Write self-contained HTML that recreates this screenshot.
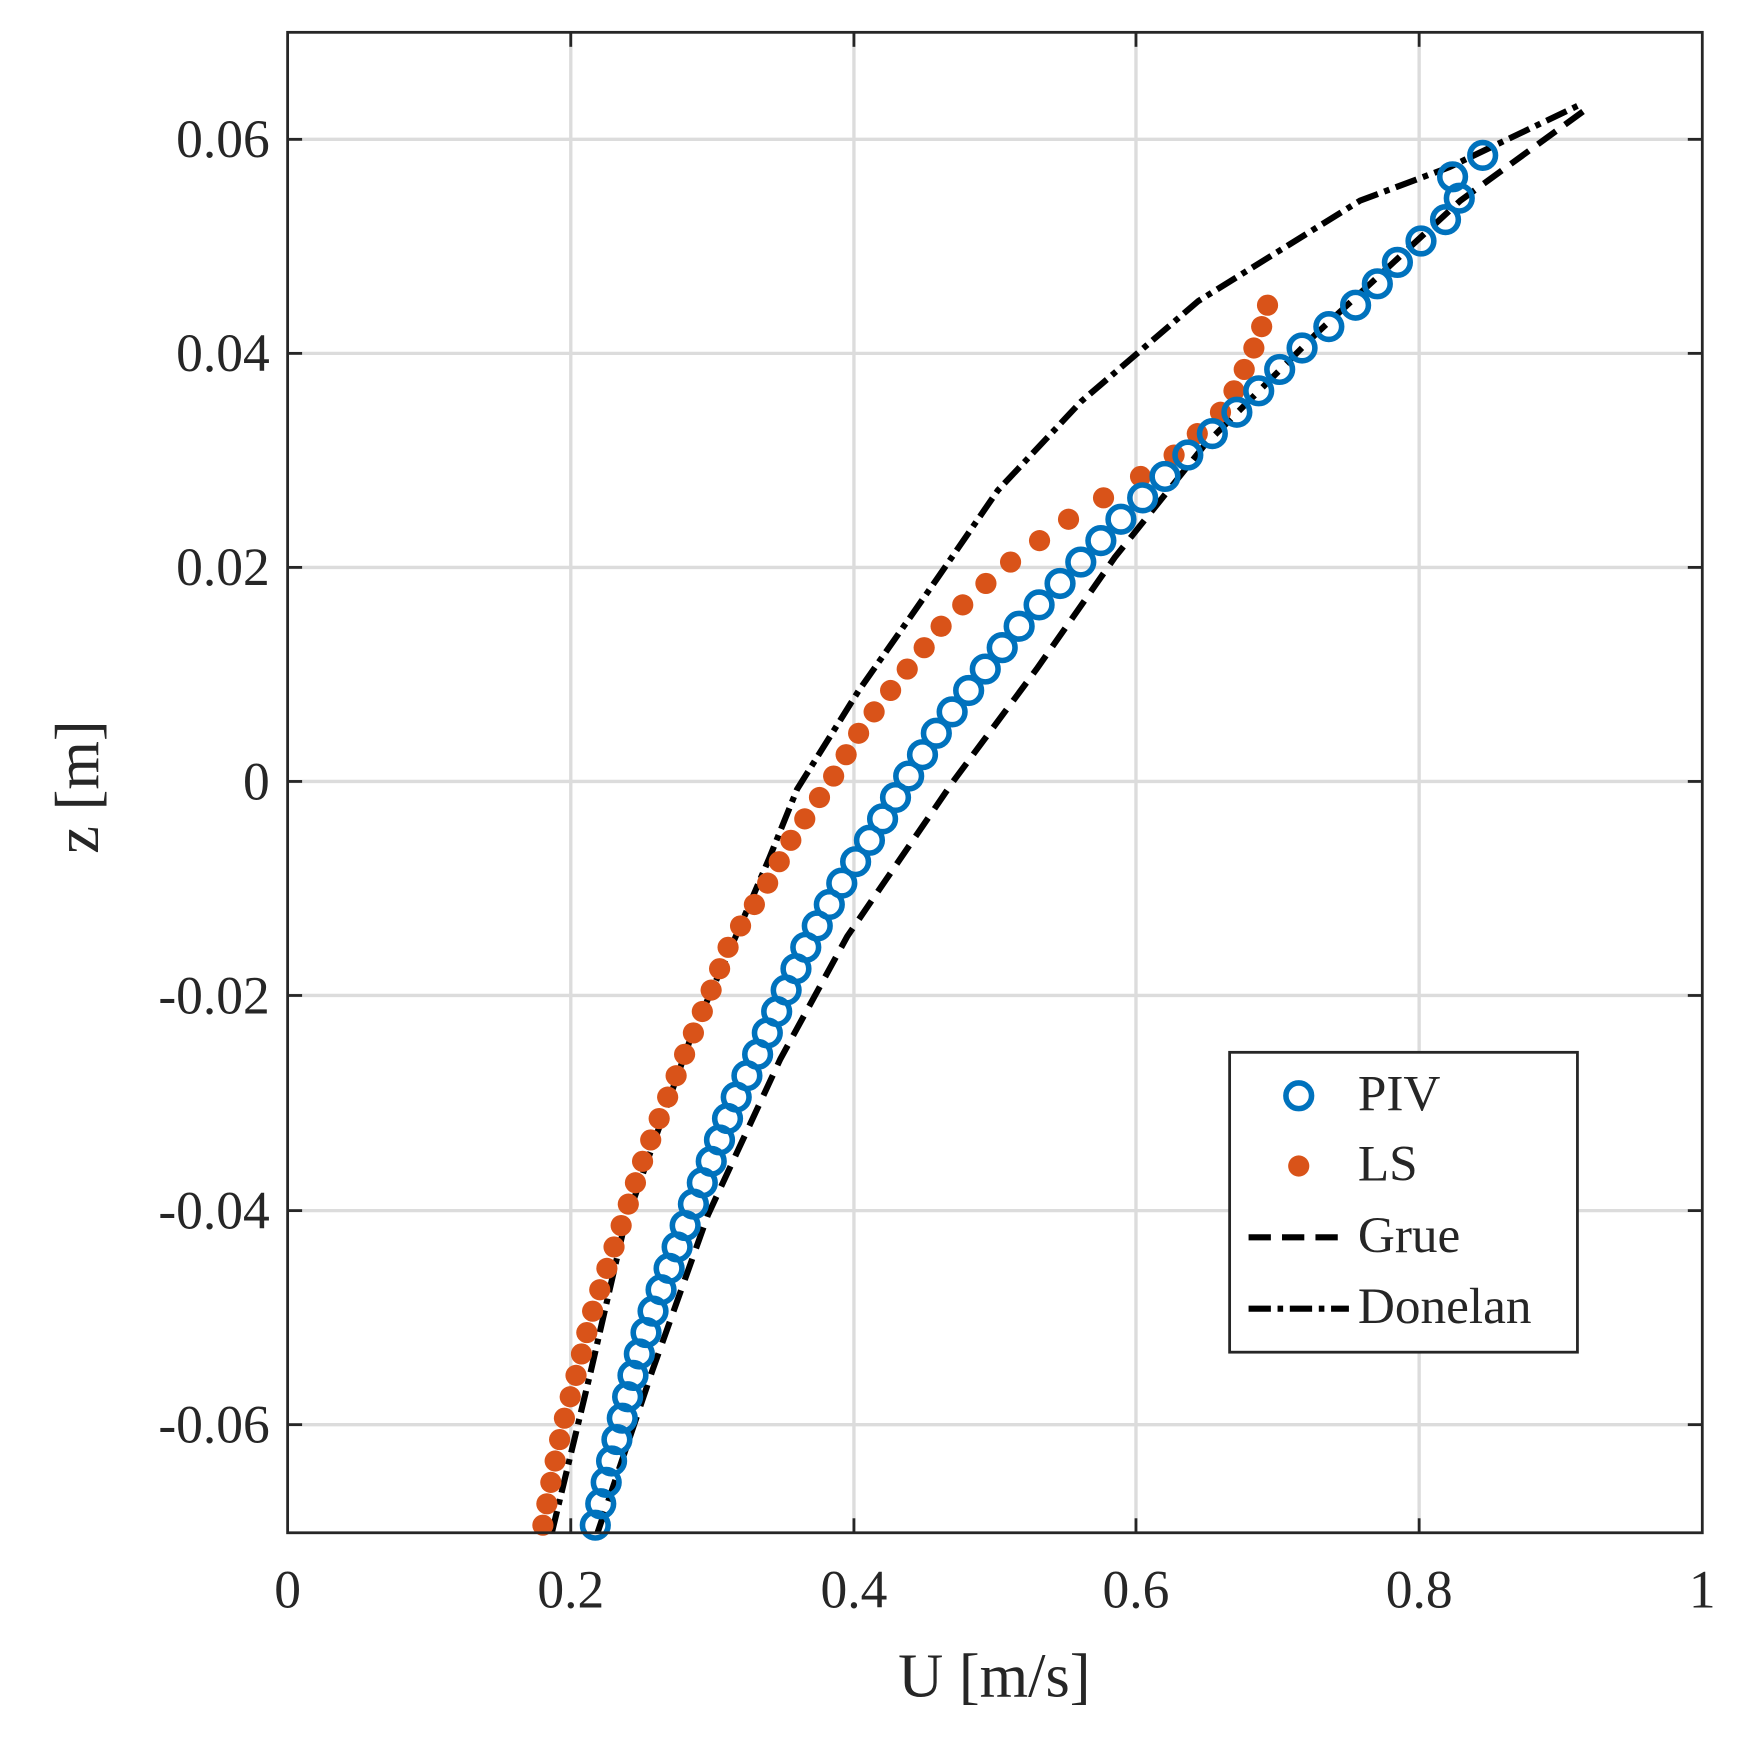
<!DOCTYPE html>
<html><head><meta charset="utf-8"><style>
html,body{margin:0;padding:0;background:#fff;}
svg{display:block;}
text{font-family:"Liberation Serif",serif;fill:#262626;}
</style></head><body>
<svg id="s" width="1748" height="1739" viewBox="0 0 1568 1560" preserveAspectRatio="none" xmlns="http://www.w3.org/2000/svg">
<rect x="0" y="0" width="1568" height="1560" fill="#fff"/>
<g stroke="#dcdcdc" stroke-width="3">
<line x1="512" y1="29" x2="512" y2="1375"/><line x1="766" y1="29" x2="766" y2="1375"/>
<line x1="1019" y1="29" x2="1019" y2="1375"/><line x1="1273" y1="29" x2="1273" y2="1375"/>
<line x1="258" y1="125" x2="1527" y2="125"/><line x1="258" y1="317" x2="1527" y2="317"/>
<line x1="258" y1="509" x2="1527" y2="509"/><line x1="258" y1="701" x2="1527" y2="701"/>
<line x1="258" y1="893" x2="1527" y2="893"/><line x1="258" y1="1086" x2="1527" y2="1086"/>
<line x1="258" y1="1278" x2="1527" y2="1278"/>
</g>
<g stroke="#262626" stroke-width="2.5">
<line x1="512" y1="1375" x2="512" y2="1362"/><line x1="766" y1="1375" x2="766" y2="1362"/><line x1="1019" y1="1375" x2="1019" y2="1362"/><line x1="1273" y1="1375" x2="1273" y2="1362"/>
<line x1="512" y1="29" x2="512" y2="42"/><line x1="766" y1="29" x2="766" y2="42"/><line x1="1019" y1="29" x2="1019" y2="42"/><line x1="1273" y1="29" x2="1273" y2="42"/>
<line x1="258" y1="125" x2="271" y2="125"/><line x1="258" y1="317" x2="271" y2="317"/><line x1="258" y1="509" x2="271" y2="509"/><line x1="258" y1="701" x2="271" y2="701"/><line x1="258" y1="893" x2="271" y2="893"/><line x1="258" y1="1086" x2="271" y2="1086"/><line x1="258" y1="1278" x2="271" y2="1278"/>
<line x1="1527" y1="125" x2="1514" y2="125"/><line x1="1527" y1="317" x2="1514" y2="317"/><line x1="1527" y1="509" x2="1514" y2="509"/><line x1="1527" y1="701" x2="1514" y2="701"/><line x1="1527" y1="893" x2="1514" y2="893"/><line x1="1527" y1="1086" x2="1514" y2="1086"/><line x1="1527" y1="1278" x2="1514" y2="1278"/>
</g>
<g id="data"></g>
<rect x="258" y="29" width="1269" height="1346" fill="none" stroke="#262626" stroke-width="2.5"/>
<g font-size="48" text-anchor="middle">
<text x="258" y="1442">0</text><text x="512" y="1442">0.2</text><text x="766" y="1442">0.4</text><text x="1019" y="1442">0.6</text><text x="1273" y="1442">0.8</text><text x="1527" y="1442">1</text>
</g>
<g font-size="48" text-anchor="end">
<text x="242" y="141">0.06</text><text x="242" y="333">0.04</text><text x="242" y="525">0.02</text><text x="242" y="717">0</text><text x="242" y="909">-0.02</text><text x="242" y="1102">-0.04</text><text x="242" y="1294">-0.06</text>
</g>
<text x="892" y="1522" font-size="56" text-anchor="middle">U [m/s]</text>
<text transform="translate(88,706) rotate(-90)" font-size="56" text-anchor="middle">z [m]</text>
<rect x="1103" y="944" width="312" height="269" fill="#fff" stroke="#262626" stroke-width="2.5"/>
<circle cx="1165" cy="983" r="11.5" fill="none" stroke="#0072bd" stroke-width="5"/>
<circle cx="1165" cy="1046" r="9.5" fill="#d95319"/>
<line x1="1120" y1="1110" x2="1210" y2="1110" stroke="#000" stroke-width="5.5" stroke-dasharray="20,10"/>
<line x1="1120" y1="1174" x2="1210" y2="1174" stroke="#000" stroke-width="5.5" stroke-dasharray="20,6,5,6"/>
<g font-size="46"><text x="1218" y="996">PIV</text><text x="1218" y="1059">LS</text><text x="1218" y="1123">Grue</text><text x="1218" y="1187">Donelan</text></g>
</svg>
<script>
function interp(tab,z){for(var i=0;i<tab.length-1;i++){if(z>=tab[i][0]&&z<=tab[i+1][0]){var t=(z-tab[i][0])/(tab[i+1][0]-tab[i][0]);return tab[i][1]+t*(tab[i+1][1]-tab[i][1]);}}return tab[tab.length-1][1];}
function Y(z){return 701-z*9600;}
var NS="http://www.w3.org/2000/svg",g=document.getElementById("data");
function el(n,a){var e=document.createElementNS(NS,n);for(var k in a)e.setAttribute(k,a[k]);g.appendChild(e);return e;}
var grue=[[536,1375],[585,1230],[635,1090],[700,950],[760,840],[855,701],[930,600],[1000,500],[1080,400],[1180,300],[1310,180],[1420,100]];
var don=[[495,1375],[530,1230],[560,1100],[620,930],[660,840],[690,770],[715,708],[770,620],[840,520],[895,440],[970,360],[1075,270],[1220,180],[1300,150],[1415,95]];
el("polyline",{points:grue.join(" "),fill:"none",stroke:"#000","stroke-width":5.5,"stroke-dasharray":"20,10"});
el("polyline",{points:don.join(" "),fill:"none",stroke:"#000","stroke-width":5.5,"stroke-dasharray":"20,6,5,6"});
var piv=[[-0.0695,534],[-0.065,545],[-0.06,557],[-0.055,569],[-0.05,584],[-0.045,602],[-0.04,620],[-0.035,640],[-0.03,658],[-0.025,682],[-0.02,703],[-0.015,725],[-0.01,752],[-0.005,783],[0,812],[0.005,843],[0.01,880],[0.015,918],[0.02,965],[0.025,1010],[0.03,1060],[0.035,1115],[0.04,1162],[0.045,1222],[0.05,1267],[0.0515,1290],[0.053,1300],[0.055,1312],[0.057,1300],[0.059,1340]];
var ls=[[-0.0695,487],[-0.065,495],[-0.06,505],[-0.055,518],[-0.05,530],[-0.045,546],[-0.04,562],[-0.035,578],[-0.03,597],[-0.025,616],[-0.02,636],[-0.015,655],[-0.01,686],[-0.005,712],[0,745],[0.005,773],[0.01,810],[0.015,848],[0.02,900],[0.025,965],[0.03,1048],[0.035,1100],[0.04,1123],[0.044,1137]];
for(var i=0;i<58;i++){var z=-0.0695+i*0.002;if(z>0.0445)break;el("circle",{cx:interp(ls,z),cy:Y(z),r:9.5,fill:"#d95319"});}
for(var i=0;i<66;i++){var z=-0.0695+i*0.002;if(z>0.0595)break;el("circle",{cx:interp(piv,z),cy:Y(z),r:11.5,fill:"none",stroke:"#0072bd","stroke-width":5});}
</script>
</body></html>
